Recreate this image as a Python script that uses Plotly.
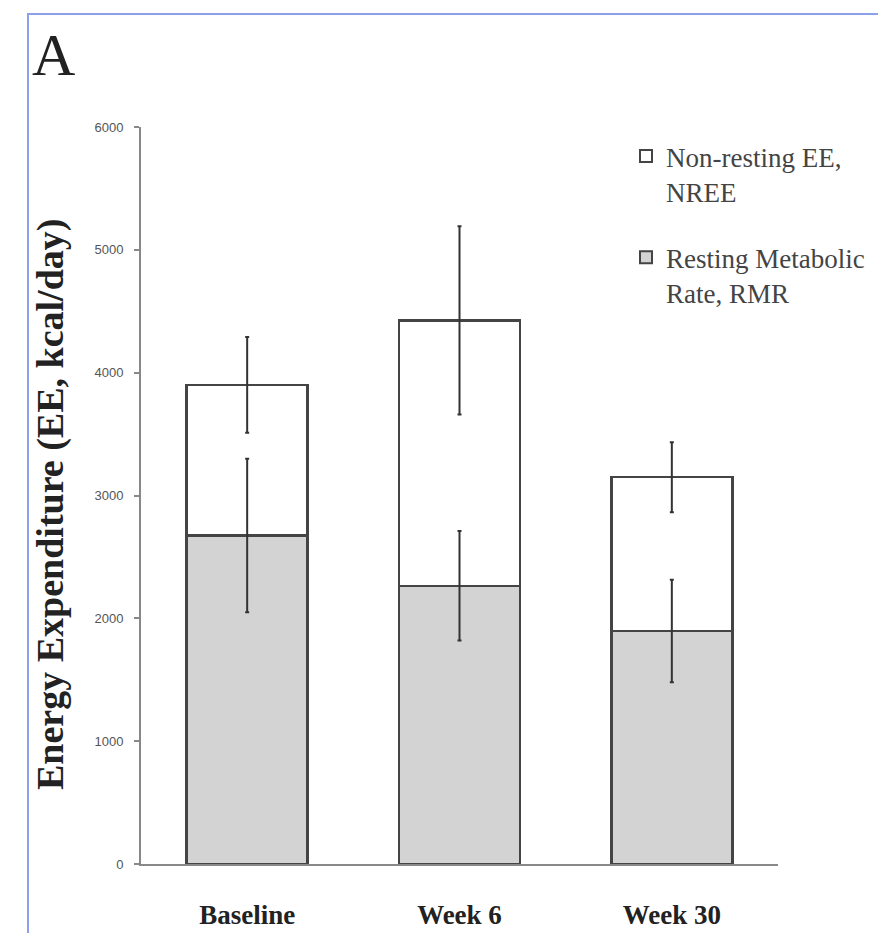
import plotly.graph_objects as go

categories = ["Baseline", "Week 6", "Week 30"]
rmr = [2675, 2265, 1897]
rmr_err = [625, 445, 418]
nree = [1225, 2160, 1252]
nree_err = [390, 766, 285]
totals = [r + n for r, n in zip(rmr, nree)]
y_ticks = [0, 1000, 2000, 3000, 4000, 5000, 6000]

OFF = 8  # page body margin
W, H = 886 - OFF, 933 - OFF
L, T = 141 - OFF, 127 - OFF
pw, ph = 637, 737
R, B = W - L - pw, H - T - ph

def px(x):
    return (x - OFF - L) / pw

def py(y):
    return (T + ph - (y - OFF)) / ph

fig = go.Figure()
fig.add_trace(go.Bar(
    x=categories, y=rmr, name="Resting Metabolic<br>Rate, RMR", legendgroup="rmr", legendrank=2,
    marker=dict(color="#d3d3d3", line=dict(color="#444444", width=2.5)),
    width=0.57,
))
fig.add_trace(go.Bar(
    x=categories, y=nree, name="Non-resting EE,<br>NREE", legendgroup="nree", legendrank=1,
    marker=dict(color="#ffffff", line=dict(color="#444444", width=2.5)),
    width=0.57,
))
# error bars drawn on top of the stacked bars
fig.add_trace(go.Scatter(
    x=categories, y=rmr, mode="markers", marker=dict(size=1, color="rgba(0,0,0,0)"),
    error_y=dict(type="data", array=rmr_err, color="#333333", thickness=2, width=2),
    showlegend=False, hoverinfo="skip",
))
fig.add_trace(go.Scatter(
    x=categories, y=totals, mode="markers", marker=dict(size=1, color="rgba(0,0,0,0)"),
    error_y=dict(type="data", array=nree_err, color="#333333", thickness=2, width=2),
    showlegend=False, hoverinfo="skip",
))

fig.update_layout(
    width=W, height=H, autosize=False,
    margin=dict(l=L, r=R, t=T, b=B, autoexpand=False),
    barmode="stack",
    paper_bgcolor="white", plot_bgcolor="white",
    showlegend=True,
    legend=dict(
        x=px(626), y=py(132), xanchor="left", yanchor="top",
        traceorder="grouped", valign="top",
        font=dict(family="Liberation Serif", size=27, color="#444444"),
        bgcolor="rgba(0,0,0,0)", itemsizing="constant",
        tracegroupgap=28, itemwidth=30,
    ),
    xaxis=dict(
        showline=True, linecolor="#888888", linewidth=2,
        ticks="", showgrid=False, range=[-0.5, 2.5], automargin=False,
        tickfont=dict(family="Liberation Serif", size=27, color="#222222", weight="bold"),
        ticklabelstandoff=26,
    ),
    yaxis=dict(
        range=[0, 6000], tickvals=y_ticks, automargin=False,
        showline=True, linecolor="#888888", linewidth=2,
        ticks="outside", ticklen=5, tickcolor="#888888", tickwidth=2,
        showgrid=False, zeroline=False,
        tickfont=dict(family="Liberation Sans", size=13, color="#555555"),
        ticklabelstandoff=8,
    ),
    annotations=[
        dict(text="Energy Expenditure (EE, kcal/day)", textangle=-90,
             xref="paper", yref="paper", x=px(50), y=py(505),
             xanchor="center", yanchor="middle", showarrow=False,
             font=dict(family="Liberation Serif", size=38, color="#222222", weight="bold")),
        dict(text="A", xref="paper", yref="paper", x=px(30), y=py(55),
             xanchor="left", yanchor="middle", showarrow=False,
             font=dict(family="Liberation Serif", size=60, color="#222222")),
    ],
    shapes=[
        dict(type="rect", xref="paper", yref="paper",
             x0=px(28), x1=px(879), y0=py(980), y1=py(14),
             line=dict(color="#8da0ee", width=2), fillcolor="rgba(0,0,0,0)", layer="below"),
    ],
)

fig.write_html("out.html")
